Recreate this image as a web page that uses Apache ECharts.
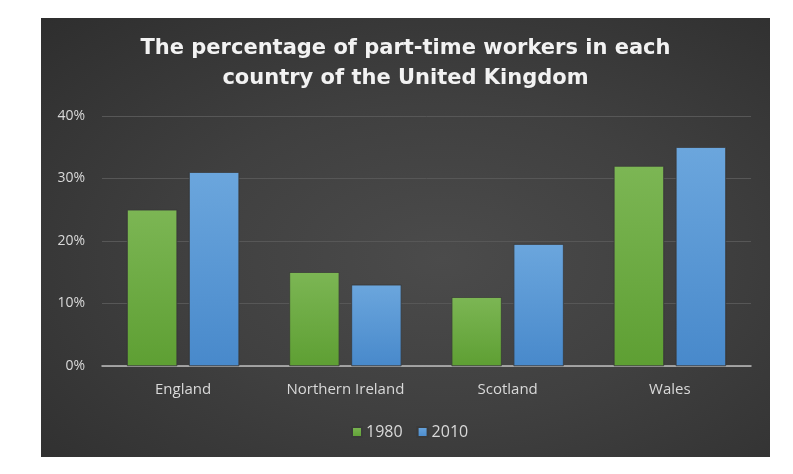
<!DOCTYPE html>
<html>
<head>
<meta charset="utf-8">
<script src="https://cdn.jsdelivr.net/npm/echarts@6/dist/echarts.min.js"></script>
<style>
    html, body { margin: 0; padding: 0; background: #fff; }
    #main {
        position: absolute; left: 41px; top: 18px; width: 729px; height: 439px;
        background: radial-gradient(ellipse at 55% 55%, #4b4b4b 0%, #404040 45%, #2e2e2e 100%);
    }
</style>
</head>
<body>
<div id="main"></div>
<script>
    // 各地区兼职比例
    var countries = ['England', 'Northern Ireland', 'Scotland', 'Wales'];
    var years = ['1980', '2010'];
    var data1980 = [25, 15, 11, 32];
    var data2010 = [31, 13, 19.5, 35];
    var yTicks = [0, 10, 20, 30, 40];

    var myChart = echarts.init(document.getElementById('main'));

    function grad(top, bottom) {
        return new echarts.graphic.LinearGradient(0, 0, 0, 1, [
            { offset: 0, color: top },
            { offset: 1, color: bottom }
        ]);
    }

    var option = {
        backgroundColor: 'transparent',
        title: {
            text: 'The percentage of part-time workers in each\ncountry of the United Kingdom',
            left: 'center',
            top: 11,
            textStyle: {
                color: '#f2f2f2',
                fontFamily: 'DejaVu Sans',
                fontWeight: 'bold',
                fontSize: 21,
                lineHeight: 30
            }
        },
        grid: { left: 61, right: 19, top: 98, bottom: 91 },
        legend: {
            data: years,
            bottom: 12,
            left: 305,
            itemWidth: 10,
            itemHeight: 10,
            itemGap: 14,
            icon: 'rect',
            textStyle: { color: '#d9d9d9', fontFamily: 'Open Sans', fontSize: 16, padding: [0, 0, 0, -1] }
        },
        xAxis: {
            type: 'category',
            data: countries,
            axisTick: { show: false },
            axisLine: { lineStyle: { color: '#bfbfbf', width: 1.5 } },
            axisLabel: { color: '#d9d9d9', fontFamily: 'Open Sans', fontSize: 15, margin: 16 }
        },
        yAxis: {
            type: 'value',
            min: yTicks[0],
            max: yTicks[yTicks.length - 1],
            interval: 10,
            axisLine: { show: false },
            axisTick: { show: false },
            splitLine: { lineStyle: { color: '#575757', width: 1 } },
            axisLabel: {
                color: '#d9d9d9', fontFamily: 'Open Sans', fontSize: 14, margin: 17,
                formatter: function (v) { return v + '%'; }
            }
        },
        series: [{
            name: years[0],
            type: 'bar',
            data: data1980,
            barWidth: 50,
            barGap: '24%',
            itemStyle: { color: grad('#7cb654', '#5e9f33'), borderColor: '#3a3a3a', borderWidth: 0.5 }
        }, {
            name: years[1],
            type: 'bar',
            data: data2010,
            barWidth: 50,
            itemStyle: { color: grad('#6ba6dd', '#4889cb'), borderColor: '#3a3a3a', borderWidth: 0.5 }
        }]
    };
    myChart.setOption(option);
</script>
</body>
</html>
